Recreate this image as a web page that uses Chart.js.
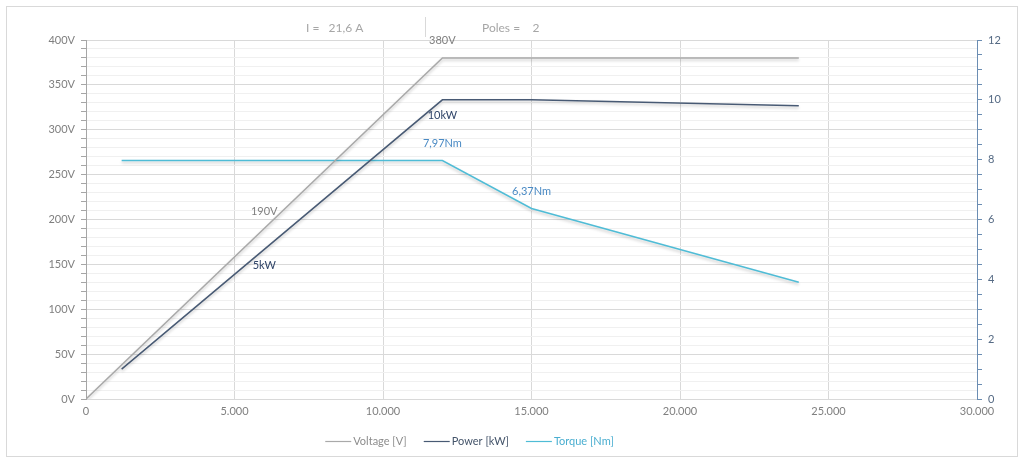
<!DOCTYPE html>
<html>
<head>
<meta charset="utf-8">
<script src="https://cdn.jsdelivr.net/npm/chart.js@4.4.0/dist/chart.umd.min.js"></script>
<style>
    html, body { margin: 0; padding: 0; background: #ffffff; }
    #wrap { width: 1024px; height: 462px; }
</style>
</head>
<body>
<div id="wrap"><canvas id="chartMotor" width="1024" height="462"></canvas></div>
<script>
// speed axis (rpm)
const voltageRpm = [0, 12000, 24000];
const voltage = [0, 380, 380];
const motorRpm = [1200, 12000, 15000, 24000];
const power = [1.0, 10.0, 10.0, 9.8];
const torque = [7.97, 7.97, 6.37, 3.9];

// value labels on the lines
const labelText = ['380V', '190V', '10kW', '5kW', '7,97Nm', '6,37Nm'];
const labelRpm = [12000, 6000, 12000, 6000, 12000, 15000];
const labelValue = [380, 190, 10, 5, 7.97, 6.37];
const labelAxis = ['y', 'y', 'y2', 'y2', 'y2', 'y2'];
const labelSide = ['above', 'above', 'below', 'below', 'above', 'above'];

const headerCurrent = 'I =   21,6 A';
const headerPoles = 'Poles =    2';

const legendNames = ['Voltage [V]', 'Power [kW]', 'Torque [Nm]'];

const kleurSpanning = '#a9a9a9';
const kleurVermogen = '#485a74';
const kleurKoppel = '#4fbcd6';
const FONT = 'Lato, "Open Sans", sans-serif';

function toPoints(xs, ys) {
    const pts = [];
    for (let i = 0; i < xs.length; i++) {
        pts.push({x: xs[i], y: ys[i]});
    }
    return pts;
}

function fmtRpm(v) {
    if (v === 0) return '0';
    return (v / 1000) + '.000';
}

const extras = {
    id: 'extras',
    beforeDatasetsDraw(chart) {
        const ctx = chart.ctx;
        ctx.save();
        ctx.shadowColor = 'rgba(0, 0, 0, 0.22)';
        ctx.shadowBlur = 3;
        ctx.shadowOffsetY = 2;
    },
    afterDatasetsDraw(chart) {
        chart.ctx.restore();
    },
    afterDraw(chart) {
        const ctx = chart.ctx;
        ctx.save();
        // outer frame
        ctx.strokeStyle = '#d9d9d9';
        ctx.lineWidth = 1;
        ctx.strokeRect(6.5, 6.5, 1011, 450);

        // header
        ctx.font = '12px ' + FONT;
        ctx.fillStyle = '#a6a6a6';
        ctx.textBaseline = 'middle';
        ctx.textAlign = 'left';
        ctx.fillText(headerCurrent, 306, 28);
        ctx.fillText(headerPoles, 482, 28);
        ctx.beginPath();
        ctx.moveTo(425.5, 17);
        ctx.lineTo(425.5, 37);
        ctx.strokeStyle = '#d9d9d9';
        ctx.stroke();

        // labels on the lines
        const xs = chart.scales.x;
        ctx.textAlign = 'center';
        ctx.font = '11px ' + FONT;
        for (let i = 0; i < labelText.length; i++) {
            const px = xs.getPixelForValue(labelRpm[i]);
            const py = chart.scales[labelAxis[i]].getPixelForValue(labelValue[i]);
            const dy = labelSide[i] === 'above' ? -17 : 16;
            if (labelAxis[i] === 'y') ctx.fillStyle = '#7f7f7f';
            else if (labelText[i].indexOf('kW') > 0) ctx.fillStyle = '#2f4468';
            else ctx.fillStyle = '#4a8ac4';
            ctx.fillText(labelText[i], px, py + dy);
        }

        // legend
        const kleuren = [kleurSpanning, kleurVermogen, kleurKoppel];
        const tekstKleuren = ['#8c8c8c', '#44546a', '#4aaed0'];
        ctx.font = '11px ' + FONT;
        ctx.textAlign = 'left';
        let total = 0;
        const widths = legendNames.map(n => ctx.measureText(n).width);
        for (let i = 0; i < widths.length; i++) total += 28 + widths[i] + (i < widths.length - 1 ? 17 : 0);
        let x = 469.5 - total / 2;
        const ly = 441;
        for (let i = 0; i < legendNames.length; i++) {
            ctx.beginPath();
            ctx.moveTo(x, ly + 0.5);
            ctx.lineTo(x + 26, ly + 0.5);
            ctx.strokeStyle = kleuren[i];
            ctx.lineWidth = 1.2;
            ctx.stroke();
            ctx.fillStyle = tekstKleuren[i];
            ctx.fillText(legendNames[i], x + 28, ly);
            x += 28 + widths[i] + 17;
        }
        ctx.restore();
    }
};

function drawMotorChart() {
    const ctx = document.getElementById('chartMotor').getContext('2d');
    const chartMotor = new Chart(ctx, {
        type: 'scatter',
        data: {
            datasets: [
                {
                    label: legendNames[0],
                    data: toPoints(voltageRpm, voltage),
                    borderColor: kleurSpanning,
                    borderWidth: 1.5,
                    showLine: true,
                    pointRadius: 0,
                    yAxisID: 'y'
                },
                {
                    label: legendNames[1],
                    data: toPoints(motorRpm, power),
                    borderColor: kleurVermogen,
                    borderWidth: 1.5,
                    showLine: true,
                    pointRadius: 0,
                    yAxisID: 'y2'
                },
                {
                    label: legendNames[2],
                    data: toPoints(motorRpm, torque),
                    borderColor: kleurKoppel,
                    borderWidth: 1.5,
                    showLine: true,
                    pointRadius: 0,
                    yAxisID: 'y2'
                }
            ]
        },
        options: {
            responsive: false,
            animation: false,
            layout: {
                padding: {top: 40, left: 0, right: 0, bottom: 0}
            },
            scales: {
                x: {
                    type: 'linear',
                    min: 0,
                    max: 30000,
                    afterFit: function (scale) { scale.height = 63; },
                    afterBuildTicks: function (scale) {
                        scale.ticks = [0, 5000, 10000, 15000, 20000, 25000, 30000].map(v => ({value: v}));
                    },
                    ticks: {
                        color: '#7f7f7f',
                        font: {family: FONT, size: 11},
                        padding: 6,
                        maxRotation: 0,
                        callback: function (v) { return fmtRpm(v); }
                    },
                    grid: {
                        color: '#d9d9d9',
                        drawTicks: false
                    },
                    border: {color: '#d9d9d9'}
                },
                y: {
                    type: 'linear',
                    position: 'left',
                    min: 0,
                    max: 400,
                    afterFit: function (scale) { scale.width = 86; },
                    afterBuildTicks: function (scale) {
                        const t = [];
                        for (let v = 0; v <= 400; v += 10) t.push({value: v});
                        scale.ticks = t;
                    },
                    ticks: {
                        autoSkip: false,
                        color: '#7f7f7f',
                        font: {family: FONT, size: 11},
                        padding: 6,
                        callback: function (v) { return v % 50 === 0 ? v + 'V' : ''; }
                    },
                    grid: {
                        color: function (c) {
                            return c.tick && c.tick.value % 50 === 0 ? '#d9d9d9' : '#f0f0f0';
                        },
                        tickColor: '#a6a6a6',
                        tickLength: 5
                    },
                    border: {color: '#a6a6a6'}
                },
                y2: {
                    type: 'linear',
                    position: 'right',
                    min: 0,
                    max: 12,
                    afterFit: function (scale) { scale.width = 47; },
                    afterBuildTicks: function (scale) {
                        const t = [];
                        for (let v = 0; v <= 12; v += 0.5) t.push({value: v});
                        scale.ticks = t;
                    },
                    ticks: {
                        autoSkip: false,
                        color: '#556a84',
                        font: {family: FONT, size: 11},
                        padding: 6,
                        callback: function (v) { return v % 2 === 0 ? String(v) : ''; }
                    },
                    grid: {
                        drawOnChartArea: false,
                        tickColor: '#6b8db3',
                        tickLength: 5
                    },
                    border: {color: '#6b8db3'}
                }
            },
            plugins: {
                legend: {display: false},
                tooltip: {enabled: false}
            }
        },
        plugins: [extras]
    });
}

drawMotorChart();
</script>
</body>
</html>
